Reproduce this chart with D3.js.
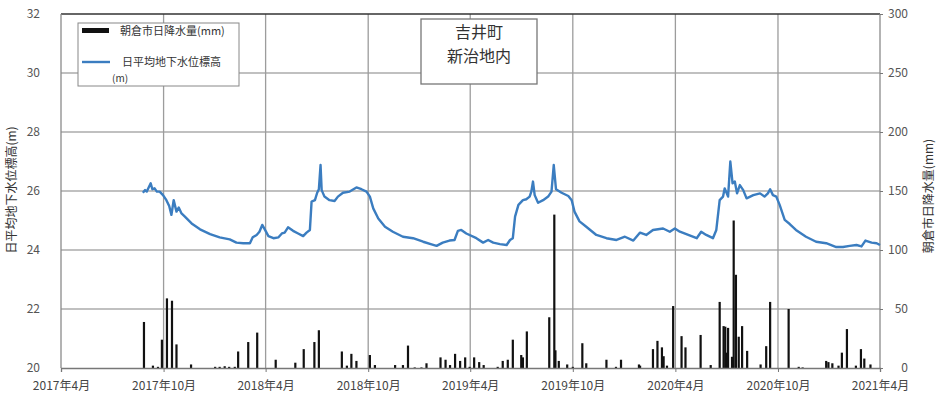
<!DOCTYPE html>
<html lang="ja">
<head>
<meta charset="UTF-8">
<title>吉井町 新治地内 地下水位と降水量</title>
<style>
  body { margin: 0; background: #fff; }
  text { font-family: "Noto Sans CJK JP", "Noto Sans", sans-serif; }
</style>
</head>
<body>
<script src="https://d3js.org/d3.v7.min.js"></script>
<script>

// 日平均地下水位標高 (m)
const levelDates = [
  "2017-08-25","2017-08-29","2017-09-01","2017-09-08","2017-09-11","2017-09-15","2017-09-19","2017-09-24","2017-09-30",
  "2017-10-06","2017-10-11","2017-10-15","2017-10-19","2017-10-24","2017-10-28","2017-11-02","2017-11-08","2017-11-20",
  "2017-12-05","2017-12-23","2018-01-09","2018-01-27","2018-02-08","2018-02-20","2018-03-04","2018-03-09","2018-03-16",
  "2018-03-21","2018-03-26","2018-03-31","2018-04-06","2018-04-15","2018-04-24","2018-04-30","2018-05-05","2018-05-11",
  "2018-05-20","2018-05-29","2018-06-07","2018-06-13","2018-06-19","2018-06-22","2018-06-28","2018-07-02","2018-07-05",
  "2018-07-08","2018-07-10","2018-07-15","2018-07-24","2018-08-02","2018-08-08","2018-08-17","2018-08-29","2018-09-10",
  "2018-09-19","2018-09-28","2018-10-04","2018-10-10","2018-10-19","2018-10-31","2018-11-14","2018-12-02","2018-12-20",
  "2019-01-07","2019-01-22","2019-01-31","2019-02-11","2019-02-23","2019-03-04","2019-03-10","2019-03-16","2019-03-25",
  "2019-04-12","2019-04-24","2019-05-03","2019-05-12","2019-05-24","2019-06-05","2019-06-11","2019-06-16","2019-06-20",
  "2019-06-26","2019-07-04","2019-07-10","2019-07-16","2019-07-19","2019-07-22","2019-07-25","2019-07-31","2019-08-09",
  "2019-08-18","2019-08-24","2019-08-28","2019-09-01","2019-09-11","2019-09-23","2019-09-29","2019-10-04","2019-10-13",
  "2019-10-25","2019-11-12","2019-11-30","2019-12-18","2020-01-02","2020-01-17","2020-01-29","2020-02-09","2020-02-21",
  "2020-03-10","2020-03-22","2020-03-31","2020-04-09","2020-04-24","2020-05-09","2020-05-17","2020-05-26","2020-06-07",
  "2020-06-13","2020-06-19","2020-06-25","2020-06-28","2020-07-04","2020-07-08","2020-07-12","2020-07-16","2020-07-20",
  "2020-07-25","2020-07-31","2020-08-06","2020-08-18","2020-08-30","2020-09-07","2020-09-13","2020-09-17","2020-09-22",
  "2020-09-28","2020-10-04","2020-10-13","2020-10-22","2020-11-02","2020-11-20","2020-12-08","2020-12-26","2021-01-13",
  "2021-01-25","2021-02-06","2021-02-18","2021-02-27","2021-03-06","2021-03-17","2021-03-26","2021-04-01"
];
const levelValues = [
  25.94,26.03,25.98,26.26,26.06,26.09,25.98,25.98,25.86,
  25.69,25.49,25.19,25.69,25.30,25.44,25.24,25.13,24.90,
  24.70,24.54,24.43,24.36,24.25,24.23,24.23,24.43,24.51,
  24.62,24.85,24.68,24.47,24.40,24.43,24.56,24.59,24.77,
  24.65,24.56,24.47,24.59,24.68,25.64,25.69,25.94,26.06,
  26.88,26.03,25.81,25.69,25.66,25.81,25.94,25.98,26.12,
  26.06,25.98,25.81,25.41,25.07,24.79,24.62,24.45,24.40,
  24.28,24.19,24.14,24.25,24.32,24.34,24.65,24.68,24.56,
  24.40,24.25,24.34,24.25,24.20,24.17,24.34,24.40,25.13,
  25.53,25.69,25.72,25.81,25.98,26.32,25.86,25.60,25.69,
  25.81,25.98,26.88,26.06,25.94,25.83,25.69,25.30,24.97,
  24.79,24.51,24.40,24.34,24.45,24.32,24.59,24.51,24.68,
  24.73,24.62,24.73,24.62,24.51,24.40,24.62,24.51,24.40,
  24.68,25.69,25.81,26.09,25.81,27.00,26.26,26.32,25.92,
  26.20,26.03,25.75,25.86,25.92,25.81,25.92,26.06,25.86,
  25.81,25.53,25.02,24.88,24.68,24.45,24.28,24.23,24.10,
  24.10,24.14,24.17,24.12,24.32,24.25,24.23,24.17
];

// 朝倉市日降水量 (mm)
const rainDates = [
  "2017-08-27","2017-09-12","2017-09-21","2017-09-28","2017-10-07","2017-10-16","2017-10-24","2017-11-19",
  "2018-01-01","2018-01-09","2018-01-18","2018-01-26","2018-02-05","2018-02-11","2018-03-01","2018-03-17",
  "2018-04-19","2018-05-24","2018-06-08","2018-06-27","2018-07-05","2018-08-15","2018-08-24","2018-09-01",
  "2018-09-10","2018-10-04","2018-10-13","2018-11-18","2018-12-02","2018-12-11","2018-12-23","2019-01-04",
  "2019-01-13","2019-02-07","2019-02-16","2019-02-24","2019-03-05","2019-03-14","2019-03-23","2019-03-31",
  "2019-04-08","2019-04-17","2019-04-25","2019-05-20","2019-05-29","2019-06-07","2019-06-16","2019-07-01",
  "2019-07-04","2019-07-11","2019-08-20","2019-08-29","2019-08-31","2019-09-06","2019-09-21","2019-10-01",
  "2019-10-18","2019-10-25","2019-11-30","2019-12-17","2019-12-26","2020-01-27","2020-01-29","2020-02-21",
  "2020-02-29","2020-03-08","2020-03-11","2020-03-17","2020-03-28","2020-04-12","2020-04-19","2020-05-16",
  "2020-06-03","2020-06-19","2020-06-26","2020-06-29","2020-07-02","2020-07-04","2020-07-11","2020-07-14",
  "2020-07-18","2020-07-23","2020-07-29","2020-08-07","2020-08-31","2020-09-10","2020-09-17","2020-10-20",
  "2020-11-07","2020-11-14","2020-12-26","2020-12-30","2021-01-06","2021-01-17","2021-01-23","2021-02-01",
  "2021-02-17","2021-02-26","2021-03-04","2021-03-15"
];
const rainValues = [
  39,2,1,24,59,57,20,3,
  1,1,1.5,1,1,14,22,30,
  7,4.5,16,22,32,14,2,12,
  6,11,2.5,2.5,2.5,19,0.5,0.5,
  4,9,7,2.5,12,6,9,1,
  9,5,2.5,1,6,7,24,11,
  9,31,43,130,15,6,3,1,
  21,4,7,1,7,3,2,16,
  23,17.5,10,2,52.5,27,17.5,28,
  2.5,56,35.5,35,13,34,9.5,125,
  79,26.5,35.5,14.5,3,18.5,56,50,
  1,0.5,6,5,4,2,13,33,
  2,16,8,3
];

const xTicks = ["2017-04-01","2017-10-01","2018-04-01","2018-10-01","2019-04-01","2019-10-01","2020-04-01","2020-10-01","2021-04-01"];
const levelTicks = [20, 22, 24, 26, 28, 30, 32];
const rainTicks = [0, 50, 100, 150, 200, 250, 300];

const parse = d3.timeParse("%Y-%m-%d");
const level = levelDates.map((d, i) => ({ date: parse(d), v: levelValues[i] }));
const rain = rainDates.map((d, i) => ({ date: parse(d), v: rainValues[i] }));

const W = 936, H = 394;
const plot = { left: 61, right: 880, top: 14, bottom: 368 };

const x = d3.scaleTime()
  .domain([parse(xTicks[0]), parse(xTicks[xTicks.length - 1])])
  .range([plot.left, plot.right]);
const yL = d3.scaleLinear().domain([20, 32]).range([plot.bottom, plot.top]);
const yR = d3.scaleLinear().domain([0, 300]).range([plot.bottom, plot.top]);

const svg = d3.select("body").append("svg")
  .attr("width", W).attr("height", H);

// grid
svg.append("g").selectAll("line")
  .data(levelTicks.slice(1, -1))
  .join("line")
  .attr("x1", plot.left).attr("x2", plot.right)
  .attr("y1", d => yL(d)).attr("y2", d => yL(d))
  .attr("stroke", "#ababab").attr("stroke-width", 1.3);

svg.append("g").selectAll("line")
  .data(xTicks.slice(1, -1))
  .join("line")
  .attr("x1", d => x(parse(d))).attr("x2", d => x(parse(d)))
  .attr("y1", plot.top).attr("y2", plot.bottom)
  .attr("stroke", "#9c9c9c").attr("stroke-width", 1.3);

// frame
svg.append("line").attr("x1", plot.left).attr("x2", plot.right).attr("y1", plot.top).attr("y2", plot.top)
  .attr("stroke", "#333").attr("stroke-width", 1.3);
svg.append("line").attr("x1", plot.right).attr("x2", plot.right).attr("y1", plot.top).attr("y2", plot.bottom)
  .attr("stroke", "#8a8a8a").attr("stroke-width", 1.3);
svg.append("line").attr("x1", plot.left).attr("x2", plot.left).attr("y1", plot.top).attr("y2", plot.bottom)
  .attr("stroke", "#8a8a8a").attr("stroke-width", 1.3);

// rain bars
svg.append("g").selectAll("rect")
  .data(rain)
  .join("rect")
  .attr("x", d => x(d.date) - 1.1)
  .attr("width", 2.2)
  .attr("y", d => yR(d.v))
  .attr("height", d => plot.bottom - yR(d.v))
  .attr("fill", "#111");

// groundwater line
svg.append("path")
  .datum(level)
  .attr("fill", "none")
  .attr("stroke", "#3b7dc0")
  .attr("stroke-width", 2.4)
  .attr("stroke-linejoin", "round")
  .attr("d", d3.line().x(d => x(d.date)).y(d => yL(d.v)));

// axes
const fmt = d => `${d.getFullYear()}年${d.getMonth() + 1}月`;
const xAxis = svg.append("g")
  .attr("transform", `translate(0,${plot.bottom})`)
  .call(d3.axisBottom(x).tickValues(xTicks.map(parse)).tickFormat(fmt).tickSize(4).tickPadding(9));
xAxis.select(".domain").attr("stroke", "#777").attr("stroke-width", 1.3);
xAxis.selectAll(".tick line").attr("stroke", "#777");
xAxis.selectAll("text").attr("fill", "#444").attr("font-size", 12);

const yAxisL = svg.append("g")
  .attr("transform", `translate(${plot.left},0)`)
  .call(d3.axisLeft(yL).tickValues(levelTicks).tickSize(0).tickPadding(21));
yAxisL.select(".domain").remove();
yAxisL.selectAll("text").attr("fill", "#555").attr("font-size", 12);

const yAxisR = svg.append("g")
  .attr("transform", `translate(${plot.right},0)`)
  .call(d3.axisRight(yR).tickValues(rainTicks).tickSize(3).tickPadding(0));
yAxisR.select(".domain").remove();
yAxisR.selectAll(".tick line").attr("stroke", "#777");
yAxisR.selectAll("text").attr("fill", "#555").attr("font-size", 12)
  .attr("text-anchor", "end").attr("x", 28);

// axis titles
svg.append("text")
  .attr("transform", "translate(16,190) rotate(-90)")
  .attr("text-anchor", "middle")
  .attr("font-size", 12).attr("fill", "#333")
  .text("日平均地下水位標高(m)");
svg.append("text")
  .attr("transform", "translate(933,196) rotate(-90)")
  .attr("text-anchor", "middle")
  .attr("font-size", 12).attr("fill", "#333")
  .text("朝倉市日降水量(mm)");

// legend
const lg = svg.append("g");
lg.append("rect").attr("x", 78).attr("y", 23).attr("width", 161).attr("height", 63)
  .attr("fill", "#fff").attr("stroke", "#888").attr("stroke-width", 1);
lg.append("rect").attr("x", 82).attr("y", 28).attr("width", 27).attr("height", 5).attr("fill", "#111");
lg.append("text").attr("x", 120).attr("y", 35).attr("font-size", 11).attr("fill", "#333")
  .text("朝倉市日降水量(mm)");
lg.append("line").attr("x1", 82).attr("x2", 110).attr("y1", 62).attr("y2", 62)
  .attr("stroke", "#3b7dc0").attr("stroke-width", 2.4);
lg.append("text").attr("x", 122).attr("y", 66).attr("font-size", 11).attr("fill", "#333")
  .text("日平均地下水位標高");
lg.append("text").attr("x", 112).attr("y", 82).attr("font-size", 10).attr("fill", "#333")
  .text("(m)");

// location note
const nb = svg.append("g");
nb.append("rect").attr("x", 421).attr("y", 19).attr("width", 116).attr("height", 65)
  .attr("fill", "#fff").attr("stroke", "#777").attr("stroke-width", 1.3);
nb.append("text").attr("x", 479).attr("y", 38).attr("text-anchor", "middle")
  .attr("font-size", 16).attr("fill", "#333").text("吉井町");
nb.append("text").attr("x", 479).attr("y", 62).attr("text-anchor", "middle")
  .attr("font-size", 16).attr("fill", "#333").text("新治地内");

</script>
</body>
</html>
